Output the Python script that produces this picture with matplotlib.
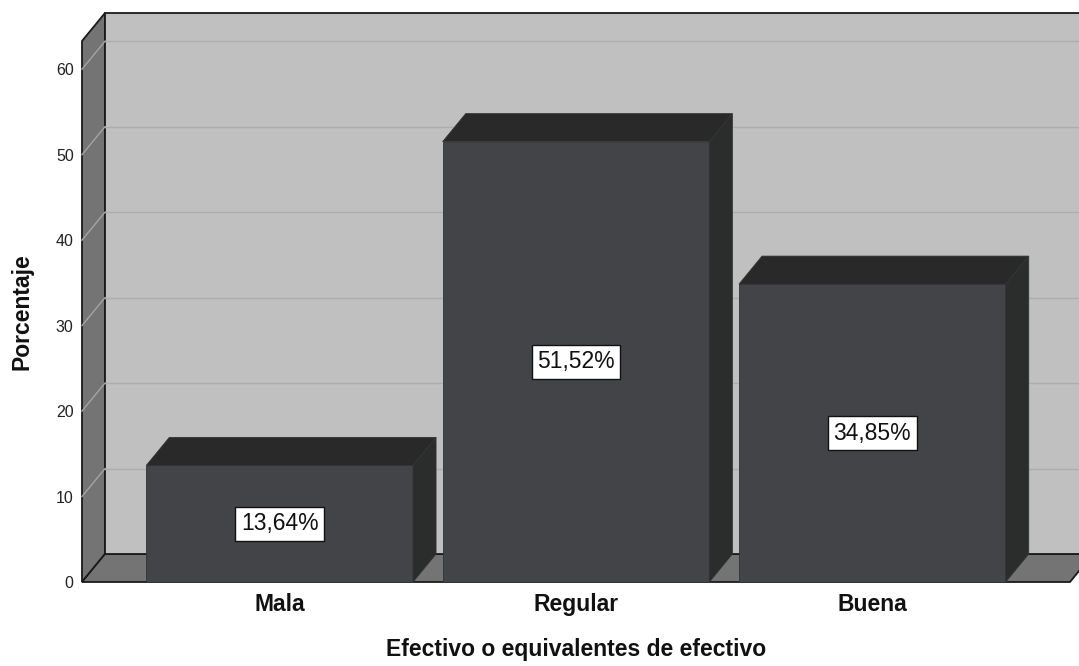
import matplotlib.pyplot as plt
from matplotlib.patches import Polygon

plt.rcParams['font.family'] = ['Liberation Sans', 'DejaVu Sans']

categorias = ['Mala', 'Regular', 'Buena']
porcentajes = [13.64, 51.52, 34.85]
etiquetas = [f'{v:.2f}%'.replace('.', ',') for v in porcentajes]
yticks = [0, 10, 20, 30, 40, 50, 60]

fig = plt.figure(figsize=(10.79, 6.66), dpi=100)
ax = fig.add_axes([82 / 1079, 84 / 666, 988 / 1079, 541 / 666])

x0, x1 = -0.667, 2.667
ytop = 63.3
dx, dy = 0.0777, 3.28   # depth offset of the 3D box
ancho = 0.9

ax.set_xlim(x0, x1)
ax.set_ylim(0, ytop)
ax.set_facecolor('none')
for s in ax.spines.values():
    s.set_visible(False)

edge = '#1a1a1a'

# left side wall
ax.add_patch(Polygon([(x0, 0), (x0 + dx, dy), (x0 + dx, ytop + dy), (x0, ytop)],
                     closed=True, fc='#747474', ec=edge, lw=1.3, clip_on=False, zorder=1))
# floor
ax.add_patch(Polygon([(x0, 0), (x1, 0), (x1 + dx, dy), (x0 + dx, dy)],
                     closed=True, fc='#747474', ec=edge, lw=1.3, clip_on=False, zorder=1))
# back wall
ax.add_patch(Polygon([(x0 + dx, dy), (x1 + dx, dy), (x1 + dx, ytop + dy), (x0 + dx, ytop + dy)],
                     closed=True, fc='#c0c0c0', ec=edge, lw=1.3, clip_on=False, zorder=1))

# grid lines running across the side wall and back wall
for y in yticks[1:]:
    ax.plot([x0, x0 + dx], [y, y + dy], color='#a4a4a4', lw=1, clip_on=False, zorder=2)
    ax.plot([x0 + dx, x1 + dx], [y + dy, y + dy], color='#adadad', lw=1, clip_on=False, zorder=2)

# 3D bars
for i, (v, txt) in enumerate(zip(porcentajes, etiquetas)):
    l, r = i - ancho / 2, i + ancho / 2
    ax.add_patch(Polygon([(l, 0), (r, 0), (r, v), (l, v)], closed=True,
                         fc='#434447', ec='#333333', lw=0.6, clip_on=False, zorder=3))
    ax.add_patch(Polygon([(l, v), (r, v), (r + dx, v + dy), (l + dx, v + dy)], closed=True,
                         fc='#292929', ec='#333333', lw=0.6, clip_on=False, zorder=3))
    ax.add_patch(Polygon([(r, 0), (r + dx, dy), (r + dx, v + dy), (r, v)], closed=True,
                         fc='#2b2c2c', ec='#333333', lw=0.6, clip_on=False, zorder=3))
    ax.text(i, v / 2, txt, ha='center', va='center', fontsize=16.5, color='#111111', zorder=5,
            bbox=dict(boxstyle='square,pad=0.24', fc='white', ec='#111111', lw=1))

ax.set_yticks(yticks)
ax.set_yticklabels([str(t) for t in yticks], fontsize=11.5, color='#222222')
ax.tick_params(axis='y', length=0, pad=6)
ax.set_xticks(range(len(categorias)))
ax.set_xticklabels(categorias, fontsize=16.5, fontweight='bold', color='#111111')
ax.tick_params(axis='x', length=0, pad=8)

ax.set_ylabel('Porcentaje', fontsize=16.5, fontweight='bold', color='#111111')
ax.yaxis.set_label_coords(-0.0486, 0.5)
ax.set_xlabel('Efectivo o equivalentes de efectivo', fontsize=16.5, fontweight='bold',
              color='#111111', labelpad=16)

fig.savefig('out.png', dpi=100)
